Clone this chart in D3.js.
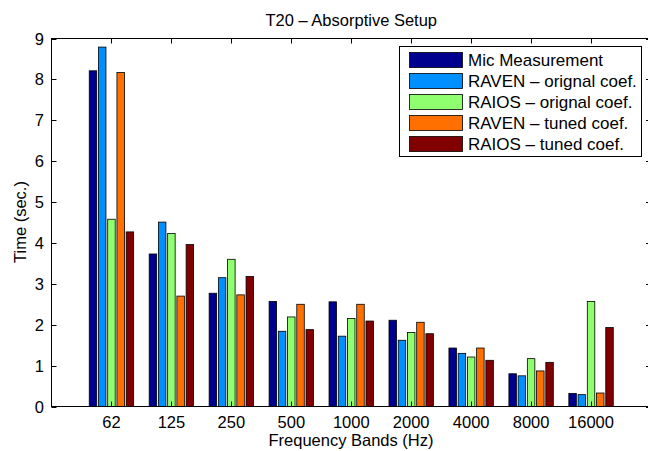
<!DOCTYPE html>
<html><head><meta charset="utf-8">
<script src="https://cdn.jsdelivr.net/npm/d3@7"></script>
<style>body{margin:0;background:#fff}svg{display:block}text{font-family:"Liberation Sans",Arial,Helvetica,sans-serif}</style>
</head><body>
<svg id="c" width="648" height="451"></svg>
<script>
const categories = ["62","125","250","500","1000","2000","4000","8000","16000"];
const seriesNames = ["Mic Measurement","RAVEN \u2013 orignal coef.","RAIOS \u2013 orignal coef.","RAVEN \u2013 tuned coef.","RAIOS \u2013 tuned coef."];
const micMeasurement = [8.21,3.73,2.77,2.57,2.56,2.11,1.43,0.80,0.32];
const ravenOriginal  = [8.79,4.51,3.15,1.84,1.72,1.62,1.30,0.75,0.29];
const raiosOriginal  = [4.58,4.23,3.60,2.19,2.15,1.81,1.21,1.17,2.57];
const ravenTuned     = [8.17,2.70,2.73,2.50,2.50,2.06,1.43,0.87,0.33];
const raiosTuned     = [4.27,3.96,3.18,1.88,2.09,1.78,1.13,1.08,1.93];
const seriesValues = [micMeasurement, ravenOriginal, raiosOriginal, ravenTuned, raiosTuned];
const colors = ["#00008f","#008fff","#8fff6f","#ff7000","#800000"];
const yTicks = [0,1,2,3,4,5,6,7,8,9];

const svg = d3.select("#c");
const L = 51.5, R = 651, T = 38.5, B = 406.5;
const x = d3.scaleLinear().domain([0,10]).range([L,R]);
const y = d3.scaleLinear().domain([0,9]).range([B,T]);
const fs = 16.5;

// bars
const offset = 0.154, bw = 0.125;
seriesValues.forEach((vals, s) => {
  svg.append("g").selectAll("rect").data(vals).join("rect")
    .attr("x", (d,i) => x(i+1 + (s-2)*offset - bw/2))
    .attr("width", x(bw) - x(0))
    .attr("y", d => y(d))
    .attr("height", d => y(0) - y(d))
    .attr("fill", colors[s])
    .attr("stroke", "#000").attr("stroke-width", 0.8);
});

// axes box
const tickLen = 5;
const ax = svg.append("g").attr("stroke","#000").attr("stroke-width",1).attr("fill","none");
ax.append("rect").attr("x",L).attr("y",T).attr("width",R-L).attr("height",B-T);
categories.forEach((c,i) => {
  const xx = Math.round(x(i+1)) + 0.5;
  ax.append("line").attr("x1",xx).attr("x2",xx).attr("y1",B).attr("y2",B-tickLen);
  ax.append("line").attr("x1",xx).attr("x2",xx).attr("y1",T).attr("y2",T+tickLen);
});
yTicks.forEach(t => {
  const yy = Math.round(y(t)) + 0.5;
  ax.append("line").attr("x1",L).attr("x2",L+tickLen).attr("y1",yy).attr("y2",yy);
  ax.append("line").attr("x1",R).attr("x2",R-tickLen).attr("y1",yy).attr("y2",yy);
});

// tick labels
svg.append("g").selectAll("text").data(categories).join("text")
  .attr("x",(d,i)=>x(i+1)).attr("y",427.5).attr("text-anchor","middle")
  .attr("font-size",fs).text(d=>d);
svg.append("g").selectAll("text").data(yTicks).join("text")
  .attr("x",44).attr("y",d=>y(d)+6).attr("text-anchor","end")
  .attr("font-size",fs).text(d=>d);

// labels
svg.append("text").attr("x",(L+R)/2).attr("y",26).attr("text-anchor","middle")
  .attr("font-size",fs).text("T20 \u2013 Absorptive Setup");
svg.append("text").attr("x",351).attr("y",446).attr("text-anchor","middle")
  .attr("font-size",fs).text("Frequency Bands (Hz)");
svg.append("text").attr("transform","translate(25.5,222) rotate(-90)").attr("text-anchor","middle")
  .attr("font-size",fs).text("Time (sec.)");

// legend
const lg = svg.append("g");
lg.append("rect").attr("x",399.5).attr("y",46.5).attr("width",242).attr("height",110)
  .attr("fill","#fff").attr("stroke","#000").attr("stroke-width",1);
seriesNames.forEach((n,s) => {
  const cy = 60 + s*21;
  lg.append("rect").attr("x",409.5).attr("y",cy-7.5).attr("width",53).attr("height",15)
    .attr("fill",colors[s]).attr("stroke","#000").attr("stroke-width",0.8);
  lg.append("text").attr("x",468).attr("y",cy+6).attr("font-size",17).text(n);
});
</script>
</body></html>
